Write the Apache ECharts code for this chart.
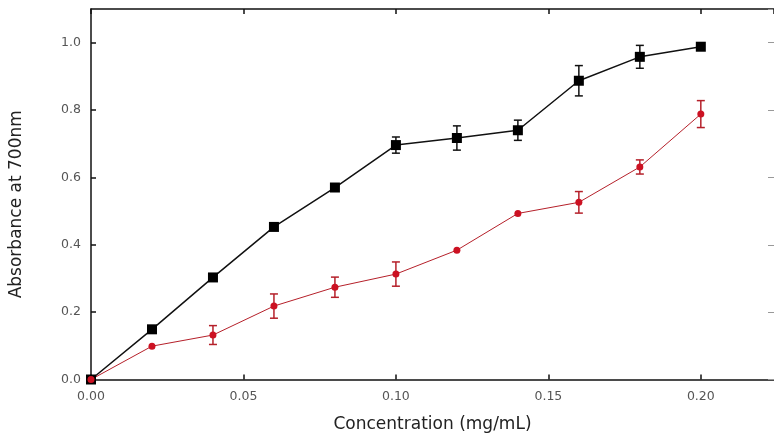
<!DOCTYPE html>
<html>
<head>
<meta charset="utf-8">
<script src="https://cdn.jsdelivr.net/npm/echarts@6/dist/echarts.min.js"></script>
<style>
	html, body { margin: 0; padding: 0; background: #fff; }
	#chart { width: 774px; height: 441px; }
</style>
</head>
<body>
<div id="chart"></div>
<script>
// data
var conc = [0, 0.02, 0.04, 0.06, 0.08, 0.10, 0.12, 0.14, 0.16, 0.18, 0.20];
var blackVals = [0, 0.149, 0.303, 0.453, 0.570, 0.696, 0.717, 0.740, 0.887, 0.958, 0.988];
var blackErr = [0, 0, 0, 0, 0, 0.024, 0.036, 0.030, 0.045, 0.034, 0];
var redVals = [0, 0.099, 0.132, 0.218, 0.274, 0.313, 0.384, 0.493, 0.526, 0.631, 0.788];
var redErr = [0, 0, 0.028, 0.036, 0.030, 0.036, 0, 0, 0.032, 0.021, 0.040];

function pairs(xs, ys) {
	var out = [];
	for (var i = 0; i < xs.length; i++) out.push([xs[i], ys[i]]);
	return out;
}
function errData(xs, ys, es) {
	var out = [];
	for (var i = 0; i < xs.length; i++) {
		if (es[i] > 0) out.push([xs[i], ys[i] - es[i], ys[i] + es[i]]);
	}
	return out;
}
function errSeries(data, color) {
	return {
		type: 'custom',
		data: data,
		z: 3,
		silent: true,
		encode: { x: 0, y: [1, 2] },
		renderItem: function(params, api) {
			var lo = api.coord([api.value(0), api.value(1)]);
			var hi = api.coord([api.value(0), api.value(2)]);
			var w = 4;
			var st = { stroke: color, lineWidth: 1.5 };
			return {
				type: 'group',
				children: [
					{ type: 'line', shape: { x1: lo[0], y1: lo[1], x2: hi[0], y2: hi[1] }, style: st },
					{ type: 'line', shape: { x1: lo[0] - w, y1: lo[1], x2: lo[0] + w, y2: lo[1] }, style: st },
					{ type: 'line', shape: { x1: hi[0] - w, y1: hi[1], x2: hi[0] + w, y2: hi[1] }, style: st }
				]
			};
		}
	};
}

var labelStyle = { color: '#555', fontSize: 12.5, fontFamily: 'DejaVu Sans' };
var nameStyle = { color: '#222', fontSize: 17, fontFamily: 'DejaVu Sans' };
var lineStyle = { color: '#111', width: 1.5 };

var chart = echarts.init(document.getElementById('chart'));
chart.setOption({
	animation: false,
	backgroundColor: '#fff',
	// plot runs a little past the right edge of the picture
	grid: { left: 90, top: 9, width: 687, height: 370.5, containLabel: false },
	xAxis: [{
		type: 'value', min: 0, max: 0.224, interval: 0.05, position: 'bottom',
		name: 'Concentration (mg/mL)', nameLocation: 'middle', nameGap: 37,
		nameTextStyle: nameStyle,
		axisLine: { onZero: false, lineStyle: lineStyle },
		axisTick: { inside: true, length: 5, lineStyle: lineStyle },
		axisLabel: Object.assign({ margin: 11, showMaxLabel: false, formatter: function(v) { return v.toFixed(2); } }, labelStyle),
		splitLine: { show: false }
	}, {
		type: 'value', min: 0, max: 0.224, interval: 0.05, position: 'top',
		axisLine: { onZero: false, lineStyle: lineStyle },
		axisTick: { inside: true, length: 5, lineStyle: lineStyle },
		axisLabel: { show: false },
		splitLine: { show: false }
	}],
	yAxis: [{
		type: 'value', min: 0, max: 1.1, interval: 0.2, position: 'left',
		name: 'Absorbance at 700nm', nameLocation: 'middle', nameGap: 66,
		nameTextStyle: Object.assign({ padding: [0, 20, 0, 0] }, nameStyle),
		axisLine: { show: true, onZero: false, lineStyle: lineStyle },
		axisTick: { show: true, inside: true, length: 5, lineStyle: lineStyle },
		axisLabel: Object.assign({ margin: 10, showMaxLabel: false, formatter: function(v) { return v.toFixed(1); } }, labelStyle),
		splitLine: { show: false }
	}, {
		type: 'value', min: 0, max: 1.1, interval: 0.2, position: 'right',
		axisLine: { show: false, onZero: false },
		axisTick: { show: true, inside: true, length: 6, lineStyle: { color: '#999', width: 1 } },
		axisLabel: { show: false },
		splitLine: { show: false }
	}],
	series: [
		{
			type: 'line', data: pairs(conc, blackVals), z: 4,
			symbol: 'rect', symbolSize: 10,
			itemStyle: { color: '#000' },
			lineStyle: { color: '#111', width: 1.5 }
		},
		{
			type: 'line', data: pairs(conc, redVals), z: 4,
			symbol: 'circle', symbolSize: 7,
			itemStyle: { color: '#cc1122' },
			lineStyle: { color: '#b5202a', width: 1 }
		},
		errSeries(errData(conc, blackVals, blackErr), '#111'),
		errSeries(errData(conc, redVals, redErr), '#b5202a')
	]
});
</script>
</body>
</html>
